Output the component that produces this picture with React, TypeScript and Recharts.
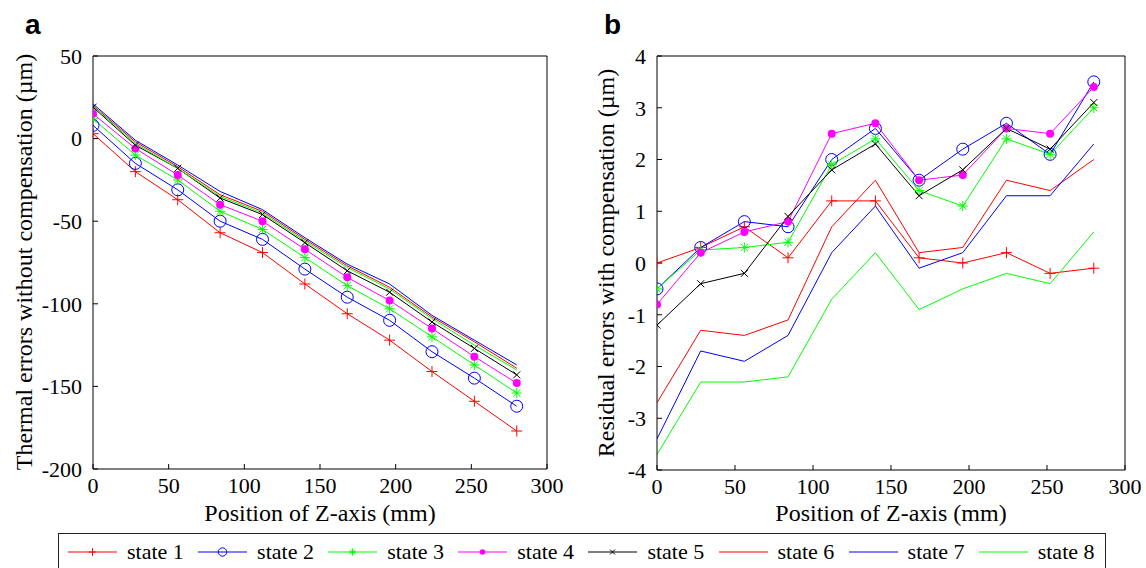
import React from "react";
import { LineChart, Line, XAxis, YAxis } from "recharts";

// positions along Z (mm)
const positions = [0, 28, 56, 84, 112, 140, 168, 196, 224, 252, 280];
const xTicks = [0, 50, 100, 150, 200, 250, 300];
const thermalTicks = [-200, -150, -100, -50, 0, 50];
const residualTicks = [-4, -3, -2, -1, 0, 1, 2, 3, 4];

// panel a: thermal errors without compensation (µm)
const thermal1 = [3, -20, -37, -57, -69, -88, -106, -122, -141, -159, -177];
const thermal2 = [8, -15, -31, -50, -61, -79, -96, -110, -129, -145, -162];
const thermal3 = [12, -10, -25, -44, -55, -72, -89, -103, -120, -137, -154];
const thermal4 = [15, -6, -22, -40, -50, -67, -84, -98, -115, -132, -148];
const thermal5 = [19, -4, -18, -36, -46, -63, -80, -93, -111, -127, -143];
const thermal6 = [20, -2, -17, -34, -44, -61, -77, -90, -108, -123, -139];
const thermal7 = [21, -1, -16, -32, -43, -60, -76, -88, -107, -122, -137];
const thermal8 = [19.5, -3, -18, -35, -45, -62, -78, -91, -109, -125, -140];

// panel b: residual errors with compensation (µm)
const residual1 = [0, 0.3, 0.7, 0.1, 1.2, 1.2, 0.1, 0.0, 0.2, -0.2, -0.1];
const residual2 = [-0.5, 0.3, 0.8, 0.7, 2.0, 2.6, 1.6, 2.2, 2.7, 2.1, 3.5];
const residual3 = [-0.5, 0.25, 0.3, 0.4, 1.9, 2.4, 1.4, 1.1, 2.4, 2.1, 3.0];
const residual4 = [-0.8, 0.2, 0.6, 0.8, 2.5, 2.7, 1.6, 1.7, 2.6, 2.5, 3.4];
const residual5 = [-1.2, -0.4, -0.2, 0.9, 1.8, 2.3, 1.3, 1.8, 2.6, 2.2, 3.1];
const residual6 = [-2.7, -1.3, -1.4, -1.1, 0.7, 1.6, 0.2, 0.3, 1.6, 1.4, 2.0];
const residual7 = [-3.4, -1.7, -1.9, -1.4, 0.2, 1.1, -0.1, 0.2, 1.3, 1.3, 2.3];
const residual8 = [-3.7, -2.3, -2.3, -2.2, -0.7, 0.2, -0.9, -0.5, -0.2, -0.4, 0.6];

const series = [
  { key: "s1", name: "state 1", color: "#ff0000", marker: "plus" },
  { key: "s2", name: "state 2", color: "#0000ff", marker: "circle" },
  { key: "s3", name: "state 3", color: "#00ff00", marker: "star" },
  { key: "s4", name: "state 4", color: "#ff00ff", marker: "dot" },
  { key: "s5", name: "state 5", color: "#000000", marker: "cross" },
  { key: "s6", name: "state 6", color: "#ff0000", marker: "none" },
  { key: "s7", name: "state 7", color: "#0000ff", marker: "none" },
  { key: "s8", name: "state 8", color: "#00ff00", marker: "none" },
];

function buildRows(values: number[][]) {
  return positions.map((x, i) => {
    const row: Record<string, number> = { x };
    values.forEach((v, j) => {
      row[`s${j + 1}`] = v[i];
    });
    return row;
  });
}

const thermalData = buildRows([thermal1, thermal2, thermal3, thermal4, thermal5, thermal6, thermal7, thermal8]);
const residualData = buildRows([residual1, residual2, residual3, residual4, residual5, residual6, residual7, residual8]);

const serif = '"Liberation Serif", "DejaVu Serif", "Times New Roman", Times, serif';
const tickStyle = { fill: "#000", fontSize: 22, fontFamily: serif };

function drawMarker(kind: string, cx: number, cy: number, color: string, legend = false) {
  const k = legend ? 0.7 : 1;
  switch (kind) {
    case "plus": {
      const h = 5.5 * k;
      return (
        <g>
          <line x1={cx - h} y1={cy} x2={cx + h} y2={cy} stroke={color} strokeWidth={1} />
          <line x1={cx} y1={cy - h} x2={cx} y2={cy + h} stroke={color} strokeWidth={1} />
        </g>
      );
    }
    case "circle":
      return <circle cx={cx} cy={cy} r={6 * k} fill="none" stroke={color} strokeWidth={1} />;
    case "star": {
      const h = 5 * k;
      const d = h * 0.72;
      return (
        <g stroke={color} strokeWidth={1}>
          <line x1={cx - h} y1={cy} x2={cx + h} y2={cy} />
          <line x1={cx} y1={cy - h} x2={cx} y2={cy + h} />
          <line x1={cx - d} y1={cy - d} x2={cx + d} y2={cy + d} />
          <line x1={cx - d} y1={cy + d} x2={cx + d} y2={cy - d} />
        </g>
      );
    }
    case "dot":
      return <circle cx={cx} cy={cy} r={4 * k} fill={color} stroke="none" />;
    case "cross": {
      const h = 3.5 * k;
      return (
        <g stroke={color} strokeWidth={1}>
          <line x1={cx - h} y1={cy - h} x2={cx + h} y2={cy + h} />
          <line x1={cx - h} y1={cy + h} x2={cx + h} y2={cy - h} />
        </g>
      );
    }
    default:
      return null;
  }
}

function makeDot(kind: string, color: string, id: string) {
  if (kind === "none") return false;
  return (props: any) => {
    const { cx, cy, index } = props;
    return (
      <g key={`${id}-${index}`}>
        {cx != null && cy != null ? drawMarker(kind, cx, cy, color) : null}
      </g>
    );
  };
}

type PanelProps = {
  data: Record<string, number>[];
  yDomain: [number, number];
  yTicks: number[];
  width: number;
  height: number;
  yAxisWidth: number;
  rightMargin: number;
  xAxisHeight: number;
  id: string;
};

function Panel({ data, yDomain, yTicks, width, height, yAxisWidth, rightMargin, xAxisHeight, id }: PanelProps) {
  return (
    <LineChart width={width} height={height} data={data} margin={{ top: 55, right: rightMargin, bottom: 0, left: 0 }}>
      <XAxis
        dataKey="x"
        type="number"
        domain={[0, 300]}
        ticks={xTicks}
        interval={0}
        allowDataOverflow
        height={xAxisHeight}
        tickSize={-5}
        tickMargin={13}
        stroke="#000"
        tick={tickStyle}
      />
      <XAxis
        xAxisId="top"
        orientation="top"
        dataKey="x"
        type="number"
        domain={[0, 300]}
        ticks={xTicks}
        interval={0}
        height={1}
        tickSize={-5}
        tick={false}
        stroke="#000"
      />
      <YAxis
        type="number"
        domain={yDomain}
        ticks={yTicks}
        interval={0}
        allowDataOverflow
        width={yAxisWidth}
        tickSize={-5}
        tickMargin={16}
        stroke="#000"
        tick={tickStyle}
      />
      <YAxis
        yAxisId="right"
        orientation="right"
        type="number"
        domain={yDomain}
        ticks={yTicks}
        interval={0}
        width={1}
        tickSize={-5}
        tick={false}
        stroke="#000"
      />
      {series.map((s) => (
        <Line
          key={s.key}
          type="linear"
          dataKey={s.key}
          name={s.name}
          stroke={s.color}
          strokeWidth={1}
          dot={makeDot(s.marker, s.color, `${id}-${s.key}`)}
          activeDot={false}
          isAnimationActive={false}
        />
      ))}
    </LineChart>
  );
}

const titleStyle: React.CSSProperties = {
  position: "absolute",
  fontFamily: serif,
  fontSize: 24,
  lineHeight: "24px",
  color: "#000",
  whiteSpace: "nowrap",
  textAlign: "center",
};

function VerticalTitle({ text, cx, cy }: { text: string; cx: number; cy: number }) {
  const w = 460;
  return (
    <div
      style={{
        ...titleStyle,
        width: w,
        height: 24,
        left: cx - w / 2,
        top: cy - 12,
        transform: "rotate(-90deg)",
        transformOrigin: "50% 50%",
      }}
    >
      {text}
    </div>
  );
}

export default function App() {
  return (
    <div
      style={{
        position: "absolute",
        left: 0,
        top: 0,
        width: 1146,
        height: 568,
        background: "#fff",
        overflow: "hidden",
      }}
    >
      <div style={{ position: "absolute", left: 0, top: 0 }}>
        <Panel
          data={thermalData}
          yDomain={[-200, 50]}
          yTicks={thermalTicks}
          width={580}
          height={530}
          yAxisWidth={93}
          rightMargin={32}
          xAxisHeight={61}
          id="a"
        />
      </div>
      <div style={{ position: "absolute", left: 570, top: 0 }}>
        <Panel
          data={residualData}
          yDomain={[-4, 4]}
          yTicks={residualTicks}
          width={576}
          height={530}
          yAxisWidth={87}
          rightMargin={20}
          xAxisHeight={60}
          id="b"
        />
      </div>

      <div
        style={{
          position: "absolute",
          left: 25,
          top: 11,
          fontFamily: '"Liberation Sans", Arial, sans-serif',
          fontWeight: "bold",
          fontSize: 28,
          lineHeight: "28px",
        }}
      >
        a
      </div>
      <div
        style={{
          position: "absolute",
          left: 604,
          top: 11,
          fontFamily: '"Liberation Sans", Arial, sans-serif',
          fontWeight: "bold",
          fontSize: 28,
          lineHeight: "28px",
        }}
      >
        b
      </div>

      <VerticalTitle text="Thermal errors without compensation (µm)" cx={24} cy={262} />
      <VerticalTitle text="Residual errors with compensation (µm)" cx={606} cy={263} />

      <div style={{ ...titleStyle, left: 120, width: 400, top: 501 }}>Position of Z-axis (mm)</div>
      <div style={{ ...titleStyle, left: 691, width: 400, top: 501 }}>Position of Z-axis (mm)</div>

      <div
        style={{
          position: "absolute",
          left: 58,
          top: 533,
          width: 1046,
          height: 40,
          border: "1px solid #222",
          background: "#fff",
        }}
      >
        {series.map((s, i) => (
          <div
            key={s.key}
            style={{
              position: "absolute",
              left: 9 + i * 130.1,
              top: 4,
              height: 28,
              display: "flex",
              alignItems: "center",
            }}
          >
            <svg width={49} height={20} style={{ display: "block" }}>
              <line x1={0} y1={10} x2={49} y2={10} stroke={s.color} strokeWidth={1} />
              {drawMarker(s.marker, 24.5, 10, s.color, true)}
            </svg>
            <span
              style={{
                marginLeft: 10,
                fontFamily: serif,
                fontSize: 22,
                lineHeight: "22px",
                whiteSpace: "nowrap",
              }}
            >
              {s.name}
            </span>
          </div>
        ))}
      </div>
    </div>
  );
}
